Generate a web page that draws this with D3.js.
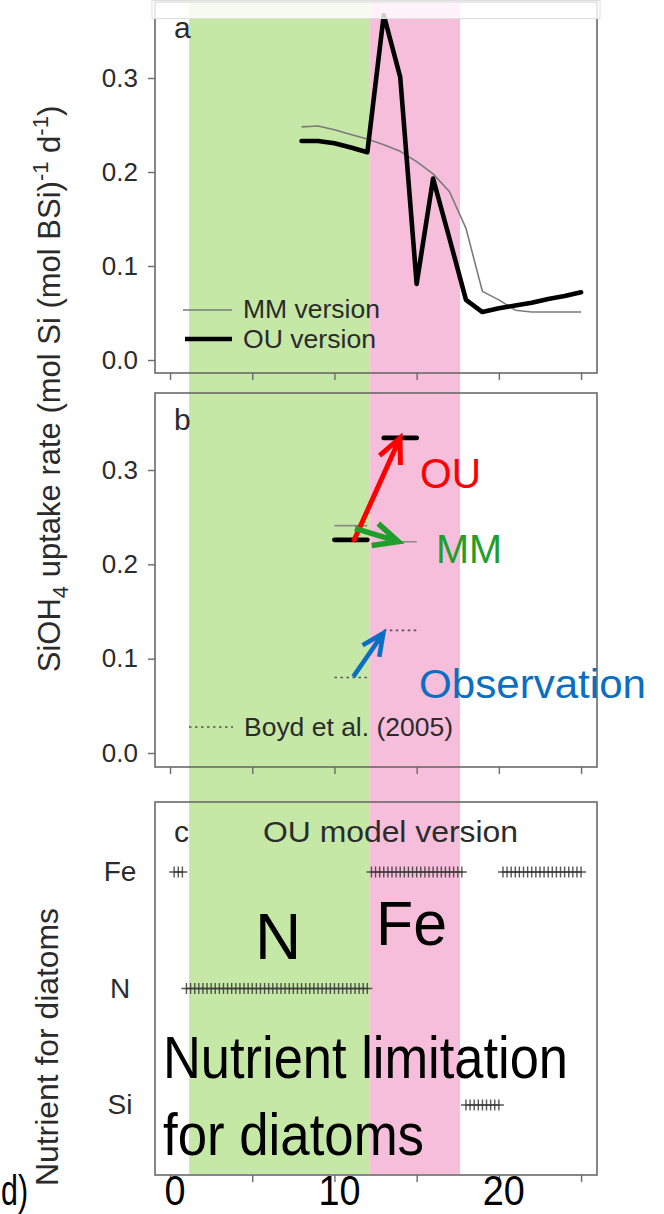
<!DOCTYPE html>
<html><head><meta charset="utf-8">
<script src="https://cdn.jsdelivr.net/npm/d3@7"></script>
<style>body{margin:0;background:#fff;} svg{display:block;} text{font-family:"Liberation Sans",Arial,Helvetica,sans-serif;}</style>
</head><body><svg id="c" width="664" height="1214"></svg>
<script>
// ---------- data ----------
const days   = [8,9,10,11,12,13,14,15,16,17,18,19,20,21,22,23,24,25];
const ouRate = [0.233,0.233,0.2305,0.226,0.221,0.367,0.301,0.081,0.193,0.129,0.064,0.051,0.055,0.058,0.061,0.065,0.068,0.072];
const mmRate = [0.248,0.249,0.245,0.240,0.235,0.229,0.222,0.211,0.198,0.179,0.140,0.073,0.064,0.053,0.051,0.051,0.051,0.051];

const periodStart = [10,13];
const periodEnd   = [12,15];
const ouMean  = [0.226,0.334];
const mmMean  = [0.241,0.224];
const boydObs = [0.080,0.130];

const nutrients = ["Si","N","Fe"];
const feDays = [0.25,0.5,0.75,
  12.25,12.5,12.75,13,13.25,13.5,13.75,14,14.25,14.5,14.75,15,15.25,15.5,15.75,16,16.25,16.5,16.75,17,17.25,17.5,17.75,
  20.25,20.5,20.75,21,21.25,21.5,21.75,22,22.25,22.5,22.75,23,23.25,23.5,23.75,24,24.25,24.5,24.75,25];
const nDays = [1,1.25,1.5,1.75,2,2.25,2.5,2.75,3,3.25,3.5,3.75,4,4.25,4.5,4.75,5,5.25,5.5,5.75,6,6.25,6.5,6.75,
  7,7.25,7.5,7.75,8,8.25,8.5,8.75,9,9.25,9.5,9.75,10,10.25,10.5,10.75,11,11.25,11.5,11.75,12];
const siDays = [18,18.25,18.5,18.75,19,19.25,19.5,19.75,20];

const yTicks = [0,0.1,0.2,0.3];
const xTicks = [0,5,10,15,20,25];
const xTickLabels = [0,10,20];

// annotation regions (days)
const nBand  = [1.16,12.17];
const feBand = [12.17,17.64];

// arrows in panel b (data coords)
const arrowFrom = [[11.15,0.224],[11.25,0.238],[11.15,0.081]];
const arrowTo   = [[13.99,0.334],[13.89,0.224],[12.97,0.127]];

// ---------- drawing ----------
const svg = d3.select("#c");
const FONT = '"Liberation Sans",Arial,Helvetica,sans-serif';
const x  = d3.scaleLinear().domain([-1,26]).range([153.6,597.5]);
const yA = d3.scaleLinear().domain([0,0.3]).range([360,78]);
const yB = d3.scaleLinear().domain([0,0.3]).range([753,470]);
const yC = d3.scaleLinear().domain([1,3]).range([1105,872]);
const TXT = "#2b2b2b";
const FRAME = "#6a6a6a";

// background bands
svg.append("rect").attr("x",x(nBand[0])).attr("y",0).attr("width",x(nBand[1])-x(nBand[0])).attr("height",1174).attr("fill","#c6e8a6");
svg.append("rect").attr("x",x(feBand[0])).attr("y",0).attr("width",x(feBand[1])-x(feBand[0])).attr("height",1174).attr("fill","#f6bedb");

const panels = [
  {y:yA, top:2, bottom:373},
  {y:yB, top:393, bottom:767},
  {y:yC, top:802, bottom:1175}
];
const L = 155, R = 597;

panels.forEach((p,i)=>{
  svg.append("rect").attr("x",L).attr("y",p.top).attr("width",R-L).attr("height",p.bottom-p.top)
    .attr("fill","none").attr("stroke",FRAME).attr("stroke-width",1.6);
  const ax = d3.axisBottom(x).tickValues(xTicks).tickSize(7).tickFormat("");
  const g = svg.append("g").attr("transform",`translate(0,${p.bottom})`).call(ax);
  g.select(".domain").remove();
  g.selectAll("line").attr("stroke",FRAME).attr("stroke-width",1.4);
});

// y axes for panel a,b
[yA,yB].forEach(ys=>{
  const ay = d3.axisLeft(ys).tickValues(yTicks).tickSize(7).tickPadding(10).tickFormat(d3.format(".1f"));
  const g = svg.append("g").attr("transform",`translate(${L},0)`).call(ay);
  g.select(".domain").remove();
  g.selectAll("line").attr("stroke",FRAME).attr("stroke-width",1.4);
  g.selectAll("text").attr("font-family",FONT).attr("font-size",26).attr("fill",TXT);
});

// panel c y labels
const ayc = d3.axisLeft(yC).tickValues([1,2,3]).tickSize(0).tickPadding(0).tickFormat((d,i)=>nutrients[i]);
const gc = svg.append("g").attr("transform",`translate(120,0)`).call(ayc);
gc.select(".domain").remove();
gc.selectAll("text").attr("font-family",FONT).attr("font-size",28).attr("fill",TXT).attr("text-anchor","middle");

// panel a lines
const line = d3.line().x((d,i)=>x(days[i])).y(d=>yA(d));
svg.append("path").attr("d",line(mmRate)).attr("fill","none").attr("stroke","#7a7a7a").attr("stroke-width",1.6).attr("stroke-linejoin","round");
svg.append("path").attr("d",line(ouRate)).attr("fill","none").attr("stroke","#000").attr("stroke-width",4.6).attr("stroke-linejoin","round").attr("stroke-linecap","round");

// white fade band at top of panel a
svg.append("rect").attr("x",152).attr("y",0.5).attr("width",448).attr("height",18)
  .attr("fill","#fff").attr("fill-opacity",0.82).attr("stroke","#e0e0e0").attr("stroke-width",1);

// panel a legend
svg.append("line").attr("x1",183).attr("x2",232).attr("y1",310).attr("y2",310).attr("stroke","#7a7a7a").attr("stroke-width",1.6);
svg.append("line").attr("x1",185).attr("x2",232).attr("y1",339).attr("y2",339).attr("stroke","#000").attr("stroke-width",4.6);
svg.append("text").attr("x",243).attr("y",318).text("MM version").attr("font-size",25).attr("fill",TXT).attr("textLength",137).attr("lengthAdjust","spacingAndGlyphs");
svg.append("text").attr("x",243).attr("y",348).text("OU version").attr("font-size",25).attr("fill",TXT).attr("textLength",133).attr("lengthAdjust","spacingAndGlyphs");

// panel letters
svg.append("text").attr("x",174).attr("y",38).text("a").attr("font-size",30).attr("fill",TXT);
svg.append("text").attr("x",174).attr("y",430).text("b").attr("font-size",30).attr("fill",TXT);
svg.append("text").attr("x",174).attr("y",842).text("c").attr("font-size",30).attr("fill",TXT);

// panel b segments
periodStart.forEach((s,i)=>{
  const e = periodEnd[i];
  svg.append("line").attr("x1",x(s)).attr("x2",x(e)).attr("y1",yB(mmMean[i])).attr("y2",yB(mmMean[i]))
    .attr("stroke","#8a8a8a").attr("stroke-width",1.6);
  svg.append("line").attr("x1",x(s)).attr("x2",x(e)).attr("y1",yB(ouMean[i])).attr("y2",yB(ouMean[i]))
    .attr("stroke","#000").attr("stroke-width",4.8).attr("stroke-linecap","round");
  svg.append("line").attr("x1",x(s)).attr("x2",x(e)).attr("y1",yB(boydObs[i])).attr("y2",yB(boydObs[i]))
    .attr("stroke","#555").attr("stroke-width",1.6).attr("stroke-dasharray","2.5,3.5");
});
// panel b legend
svg.append("line").attr("x1",189).attr("x2",233).attr("y1",727).attr("y2",727).attr("stroke","#555").attr("stroke-width",1.6).attr("stroke-dasharray","2.5,3.5");
svg.append("text").attr("x",244).attr("y",736).text("Boyd et al. (2005)").attr("font-size",25).attr("fill",TXT).attr("textLength",209).attr("lengthAdjust","spacingAndGlyphs");

// arrows
const arrowColors = ["#ff0000","#1f9e2c","#0a6fc2"];
const arrowWidths = [5,5.5,4.6];
arrowFrom.forEach((f,i)=>{
  const x0=x(f[0]), y0=yB(f[1]), x1=x(arrowTo[i][0]), y1=yB(arrowTo[i][1]);
  const ang=Math.atan2(y1-y0,x1-x0), a=25*Math.PI/180, len= i===2?24:27;
  const p1=[x1-len*Math.cos(ang-a), y1-len*Math.sin(ang-a)];
  const p2=[x1-len*Math.cos(ang+a), y1-len*Math.sin(ang+a)];
  svg.append("path").attr("d",`M${x0},${y0}L${x1},${y1}M${p1[0]},${p1[1]}L${x1},${y1}L${p2[0]},${p2[1]}`)
    .attr("fill","none").attr("stroke",arrowColors[i]).attr("stroke-width",arrowWidths[i]).attr("stroke-linejoin","miter");
});
svg.append("text").attr("x",420).attr("y",488).text("OU").attr("font-size",42).attr("fill","#ff0000").attr("textLength",61).attr("lengthAdjust","spacingAndGlyphs");
svg.append("text").attr("x",436).attr("y",563).text("MM").attr("font-size",40).attr("fill","#1f9e2c").attr("textLength",66).attr("lengthAdjust","spacingAndGlyphs");
svg.append("text").attr("x",419).attr("y",698).text("Observation").attr("font-size",40).attr("fill","#0a6fc2").attr("textLength",227).attr("lengthAdjust","spacingAndGlyphs");

// panel c title
svg.append("text").attr("x",263).attr("y",842).text("OU model version").attr("font-size",30).attr("fill",TXT).attr("textLength",255).attr("lengthAdjust","spacingAndGlyphs");

// panel c markers
const rows = [siDays,nDays,feDays];
const gm = svg.append("g").attr("stroke","#3a3a3a").attr("stroke-width",1.4).attr("stroke-opacity",0.85);
rows.forEach((arr,r)=>{
  const yy = yC(r+1);
  arr.forEach(t=>{
    const xx = x(t);
    gm.append("path").attr("d",`M${xx-5},${yy}H${xx+5}M${xx},${yy-5.5}V${yy+5.5}`);
  });
});

// y titles
const t1 = svg.append("text").attr("transform","translate(60,389) rotate(-90)").attr("text-anchor","middle")
  .attr("font-size",31).attr("fill",TXT);
t1.append("tspan").text("SiOH");
t1.append("tspan").text("4").attr("font-size",22).attr("dy",8);
t1.append("tspan").text(" uptake rate (mol Si (mol BSi)").attr("dy",-8);
t1.append("tspan").text("-1").attr("font-size",22).attr("dy",-12);
t1.append("tspan").text(" d").attr("dy",12);
t1.append("tspan").text("-1").attr("font-size",22).attr("dy",-12);
t1.append("tspan").text(")").attr("dy",12);

svg.append("text").attr("transform","translate(58,1047) rotate(-90)").attr("text-anchor","middle")
  .attr("font-size",31).attr("fill",TXT).text("Nutrient for diatoms").attr("textLength",278).attr("lengthAdjust","spacingAndGlyphs");

// big overlay texts
svg.append("text").attr("x",255).attr("y",959).text("N").attr("font-size",64).attr("fill","#000");
svg.append("text").attr("x",376).attr("y",945).text("Fe").attr("font-size",63).attr("fill","#000").attr("textLength",71).attr("lengthAdjust","spacingAndGlyphs");
svg.append("text").attr("x",163).attr("y",1078).text("Nutrient limitation").attr("font-size",60).attr("fill","#000").attr("textLength",405).attr("lengthAdjust","spacingAndGlyphs");
svg.append("text").attr("x",163).attr("y",1155).text("for diatoms").attr("font-size",60).attr("fill","#000").attr("textLength",261).attr("lengthAdjust","spacingAndGlyphs");

// big x tick labels
xTickLabels.forEach(v=>{
  svg.append("text").attr("x",x(v)+5).attr("y",1205).attr("text-anchor","middle").text(v)
    .attr("font-size",42).attr("fill","#000").attr("textLength",String(v).length*21).attr("lengthAdjust","spacingAndGlyphs");
});
svg.append("text").attr("x",1).attr("y",1205).text("d)").attr("font-size",42).attr("fill","#000").attr("textLength",27).attr("lengthAdjust","spacingAndGlyphs");
</script></body></html>
